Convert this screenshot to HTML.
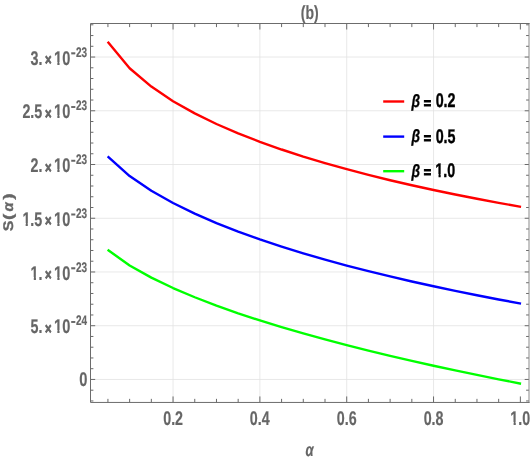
<!DOCTYPE html>
<html><head><meta charset="utf-8"><title>(b)</title><style>html,body{margin:0;padding:0;background:#fff;overflow:hidden}svg{display:block;will-change:transform}text{text-rendering:geometricPrecision;font-family:"Liberation Sans",sans-serif;font-weight:bold}</style></head><body>
<svg width="531" height="461" viewBox="0 0 531 461">
<rect width="531" height="461" fill="#fff"/>
<path d="M173.05 23.5V402.45M259.88 23.5V402.45M346.71 23.5V402.45M433.54 23.5V402.45M90.5 379.45H529.0M90.5 325.71H529.0M90.5 271.98H529.0M90.5 218.25H529.0M90.5 164.51H529.0M90.5 110.77H529.0M90.5 57.04H529.0" stroke="#e2e2e2" stroke-width="0.8" fill="none"/>
<polyline points="107.67,41.71 129.63,68.21 151.34,86.61 173.05,101.18 194.76,113.41 216.46,124.00 238.17,133.38 259.88,141.83 281.59,149.51 303.29,156.57 325.00,163.10 346.71,169.18 368.42,174.87 390.12,180.21 411.83,185.24 433.54,190.00 455.25,194.51 476.95,198.79 498.66,202.87 521.06,206.88" fill="none" stroke="#ff0000" stroke-width="2.4" stroke-linejoin="round" stroke-linecap="butt"/>
<polyline points="107.63,156.37 129.63,176.04 151.34,190.77 173.05,203.00 194.76,213.61 216.46,223.04 238.17,231.57 259.88,239.39 281.59,246.61 303.29,253.33 325.00,259.63 346.71,265.55 368.42,271.14 390.12,276.44 411.83,281.48 433.54,286.28 455.25,290.87 476.95,295.25 498.66,299.45 521.06,303.62" fill="none" stroke="#0000ff" stroke-width="2.4" stroke-linejoin="round" stroke-linecap="butt"/>
<polyline points="107.60,249.78 129.63,265.44 151.34,277.63 173.05,288.03 194.76,297.25 216.46,305.60 238.17,313.29 259.88,320.44 281.59,327.14 303.29,333.46 325.00,339.46 346.71,345.17 368.42,350.63 390.12,355.86 411.83,360.89 433.54,365.74 455.25,370.41 476.95,374.94 498.66,379.31 521.06,383.70" fill="none" stroke="#00ff00" stroke-width="2.4" stroke-linejoin="round" stroke-linecap="butt"/>
<path d="M107.93 402.45v-3.6M107.93 23.5v3.6M129.63 402.45v-3.6M129.63 23.5v3.6M151.34 402.45v-3.6M151.34 23.5v3.6M173.05 402.45v-6.0M173.05 23.5v6.0M194.76 402.45v-3.6M194.76 23.5v3.6M216.47 402.45v-3.6M216.47 23.5v3.6M238.17 402.45v-3.6M238.17 23.5v3.6M259.88 402.45v-6.0M259.88 23.5v6.0M281.59 402.45v-3.6M281.59 23.5v3.6M303.29 402.45v-3.6M303.29 23.5v3.6M325.00 402.45v-3.6M325.00 23.5v3.6M346.71 402.45v-6.0M346.71 23.5v6.0M368.42 402.45v-3.6M368.42 23.5v3.6M390.12 402.45v-3.6M390.12 23.5v3.6M411.83 402.45v-3.6M411.83 23.5v3.6M433.54 402.45v-6.0M433.54 23.5v6.0M455.25 402.45v-3.6M455.25 23.5v3.6M476.96 402.45v-3.6M476.96 23.5v3.6M498.66 402.45v-3.6M498.66 23.5v3.6M520.37 402.45v-6.0M520.37 23.5v6.0M90.5 400.94h2.9M529.0 400.94h-2.9M90.5 390.20h2.9M529.0 390.20h-2.9M90.5 379.45h4.7M529.0 379.45h-4.3M90.5 368.70h2.9M529.0 368.70h-2.9M90.5 357.96h2.9M529.0 357.96h-2.9M90.5 347.21h2.9M529.0 347.21h-2.9M90.5 336.46h2.9M529.0 336.46h-2.9M90.5 325.71h4.7M529.0 325.71h-4.3M90.5 314.97h2.9M529.0 314.97h-2.9M90.5 304.22h2.9M529.0 304.22h-2.9M90.5 293.47h2.9M529.0 293.47h-2.9M90.5 282.73h2.9M529.0 282.73h-2.9M90.5 271.98h4.7M529.0 271.98h-4.3M90.5 261.23h2.9M529.0 261.23h-2.9M90.5 250.49h2.9M529.0 250.49h-2.9M90.5 239.74h2.9M529.0 239.74h-2.9M90.5 228.99h2.9M529.0 228.99h-2.9M90.5 218.25h4.7M529.0 218.25h-4.3M90.5 207.50h2.9M529.0 207.50h-2.9M90.5 196.75h2.9M529.0 196.75h-2.9M90.5 186.00h2.9M529.0 186.00h-2.9M90.5 175.26h2.9M529.0 175.26h-2.9M90.5 164.51h4.7M529.0 164.51h-4.3M90.5 153.76h2.9M529.0 153.76h-2.9M90.5 143.02h2.9M529.0 143.02h-2.9M90.5 132.27h2.9M529.0 132.27h-2.9M90.5 121.52h2.9M529.0 121.52h-2.9M90.5 110.77h4.7M529.0 110.77h-4.3M90.5 100.03h2.9M529.0 100.03h-2.9M90.5 89.28h2.9M529.0 89.28h-2.9M90.5 78.53h2.9M529.0 78.53h-2.9M90.5 67.79h2.9M529.0 67.79h-2.9M90.5 57.04h4.7M529.0 57.04h-4.3M90.5 46.29h2.9M529.0 46.29h-2.9M90.5 35.55h2.9M529.0 35.55h-2.9M90.5 24.80h2.9M529.0 24.80h-2.9" stroke="#696969" stroke-width="1" fill="none"/>
<path d="M529.0 23.0V402.95" stroke="#8a8a8a" stroke-width="1" fill="none"/>
<path d="M529.5 23.5H90.5V402.45H529.5" stroke="#6c6c6c" stroke-width="1" fill="none"/>
<path d="M383.2 101.5H404.2" stroke="#ff0000" stroke-width="2.4"/>
<path d="M383.2 136.6H404.2" stroke="#0000ff" stroke-width="2.4"/>
<path d="M383.2 171.2H404.2" stroke="#00ff00" stroke-width="2.4"/>
<text transform="translate(163.21 424.55) scale(0.7222 1)" font-size="19.80" fill="#666" stroke="#666" stroke-width="0.18">0.2</text>
<text transform="translate(249.80 424.55) scale(0.7222 1)" font-size="19.80" fill="#666" stroke="#666" stroke-width="0.18">0.4</text>
<text transform="translate(336.85 424.55) scale(0.7222 1)" font-size="19.80" fill="#666" stroke="#666" stroke-width="0.18">0.6</text>
<text transform="translate(423.64 424.55) scale(0.7222 1)" font-size="19.80" fill="#666" stroke="#666" stroke-width="0.18">0.8</text>
<text transform="translate(510.37 424.55) scale(0.7222 1)" font-size="19.80" fill="#666" stroke="#666" stroke-width="0.18">1.0</text>
<text transform="translate(300.80 18.54) scale(0.7340 1)" font-size="19.10" fill="#666" stroke="#666" stroke-width="0.18">(b)</text>
<text transform="translate(305.44 455.71) scale(0.7238 1)" font-size="18.07" fill="#666" stroke="#666" stroke-width="0.18" font-style="italic">α</text>
<text transform="translate(30.56 64.59) scale(0.7222 1)" font-size="19.80" fill="#666" stroke="#666" stroke-width="0.18">3.</text>
<text transform="translate(45.03 65.23) scale(0.7102 1)" font-size="15.77" fill="#666" stroke="#666" stroke-width="0.9">×</text>
<text transform="translate(54.03 64.59) scale(0.7374 1)" font-size="19.80" fill="#666" stroke="#666" stroke-width="0.18">10</text>
<text transform="translate(70.82 57.00) scale(1.0459 1)" font-size="14.31" fill="#666" stroke="#666" stroke-width="0.18">-</text>
<text transform="translate(75.95 56.59) scale(0.7246 1)" font-size="13.80" fill="#666" stroke="#666" stroke-width="0.18">23</text>
<text transform="translate(22.42 118.32) scale(0.7222 1)" font-size="19.80" fill="#666" stroke="#666" stroke-width="0.18">2.5</text>
<text transform="translate(45.03 118.97) scale(0.7102 1)" font-size="15.77" fill="#666" stroke="#666" stroke-width="0.9">×</text>
<text transform="translate(54.03 118.32) scale(0.7374 1)" font-size="19.80" fill="#666" stroke="#666" stroke-width="0.18">10</text>
<text transform="translate(70.82 111.00) scale(0.9762 1)" font-size="15.33" fill="#666" stroke="#666" stroke-width="0.18">-</text>
<text transform="translate(75.95 110.32) scale(0.7246 1)" font-size="13.80" fill="#666" stroke="#666" stroke-width="0.18">23</text>
<text transform="translate(30.56 172.06) scale(0.7222 1)" font-size="19.80" fill="#666" stroke="#666" stroke-width="0.18">2.</text>
<text transform="translate(45.03 172.70) scale(0.7102 1)" font-size="15.77" fill="#666" stroke="#666" stroke-width="0.9">×</text>
<text transform="translate(54.03 172.06) scale(0.7374 1)" font-size="19.80" fill="#666" stroke="#666" stroke-width="0.18">10</text>
<text transform="translate(70.82 165.00) scale(0.9152 1)" font-size="16.35" fill="#666" stroke="#666" stroke-width="0.18">-</text>
<text transform="translate(75.95 164.06) scale(0.7246 1)" font-size="13.80" fill="#666" stroke="#666" stroke-width="0.18">23</text>
<text transform="translate(22.42 225.80) scale(0.7222 1)" font-size="19.80" fill="#666" stroke="#666" stroke-width="0.18">1.5</text>
<text transform="translate(45.03 226.44) scale(0.7102 1)" font-size="15.77" fill="#666" stroke="#666" stroke-width="0.9">×</text>
<text transform="translate(54.03 225.80) scale(0.7374 1)" font-size="19.80" fill="#666" stroke="#666" stroke-width="0.18">10</text>
<text transform="translate(70.82 218.00) scale(1.1071 1)" font-size="13.52" fill="#666" stroke="#666" stroke-width="0.18">-</text>
<text transform="translate(75.95 217.80) scale(0.7246 1)" font-size="13.80" fill="#666" stroke="#666" stroke-width="0.18">23</text>
<text transform="translate(30.56 279.53) scale(0.7222 1)" font-size="19.80" fill="#666" stroke="#666" stroke-width="0.18">1.</text>
<text transform="translate(45.03 280.17) scale(0.7102 1)" font-size="15.77" fill="#666" stroke="#666" stroke-width="0.9">×</text>
<text transform="translate(54.03 279.53) scale(0.7374 1)" font-size="19.80" fill="#666" stroke="#666" stroke-width="0.18">10</text>
<text transform="translate(70.82 272.00) scale(1.0293 1)" font-size="14.54" fill="#666" stroke="#666" stroke-width="0.18">-</text>
<text transform="translate(75.95 271.53) scale(0.7246 1)" font-size="13.80" fill="#666" stroke="#666" stroke-width="0.18">23</text>
<text transform="translate(30.56 333.26) scale(0.7222 1)" font-size="19.80" fill="#666" stroke="#666" stroke-width="0.18">5.</text>
<text transform="translate(45.03 333.91) scale(0.7102 1)" font-size="15.77" fill="#666" stroke="#666" stroke-width="0.9">×</text>
<text transform="translate(54.03 333.26) scale(0.7374 1)" font-size="19.80" fill="#666" stroke="#666" stroke-width="0.18">10</text>
<text transform="translate(70.82 326.00) scale(0.9617 1)" font-size="15.56" fill="#666" stroke="#666" stroke-width="0.18">-</text>
<text transform="translate(75.95 325.26) scale(0.7246 1)" font-size="13.80" fill="#666" stroke="#666" stroke-width="0.18">24</text>
<text transform="translate(79.13 386.35) scale(0.7424 1)" font-size="19.80" fill="#666" stroke="#666" stroke-width="0.18">0</text>
<text transform="translate(13.06 231.26) rotate(-90) scale(1.1459 1)" font-size="13.98" fill="#666" stroke="#666" stroke-width="0.3">S</text>
<text transform="translate(12.83 220.05) rotate(-90) scale(1.3826 1)" font-size="13.84" fill="#666" stroke="#666" stroke-width="0.3">(</text>
<text transform="translate(13.05 211.51) rotate(-90) scale(1.0287 1)" font-size="14.42" fill="#666" stroke="#666" stroke-width="0.3" font-style="italic">α</text>
<text transform="translate(12.83 199.72) rotate(-90) scale(1.3826 1)" font-size="13.84" fill="#666" stroke="#666" stroke-width="0.3">)</text>
<text transform="translate(411.60 106.90) scale(0.7747 1)" font-size="17.81" fill="#000" stroke="#000" stroke-width="0.35" font-style="italic">β</text>
<text transform="translate(423.68 107.67) scale(0.8633 1)" font-size="14.55" fill="#000" stroke="#000" stroke-width="0.9">=</text>
<text transform="translate(435.63 107.40) scale(0.7222 1)" font-size="19.80" fill="#000" stroke="#000" stroke-width="0.4">0.2</text>
<text transform="translate(411.60 142.00) scale(0.7747 1)" font-size="17.81" fill="#000" stroke="#000" stroke-width="0.35" font-style="italic">β</text>
<text transform="translate(423.68 142.77) scale(0.8633 1)" font-size="14.55" fill="#000" stroke="#000" stroke-width="0.9">=</text>
<text transform="translate(435.63 142.50) scale(0.7222 1)" font-size="19.80" fill="#000" stroke="#000" stroke-width="0.4">0.5</text>
<text transform="translate(411.60 176.60) scale(0.7747 1)" font-size="17.81" fill="#000" stroke="#000" stroke-width="0.35" font-style="italic">β</text>
<text transform="translate(423.68 177.37) scale(0.8633 1)" font-size="14.55" fill="#000" stroke="#000" stroke-width="0.9">=</text>
<text transform="translate(435.30 177.10) scale(0.7222 1)" font-size="19.80" fill="#000" stroke="#000" stroke-width="0.4">1.0</text>
<path d="M511 422H513.61V426H511ZM515.77 422H519V426H515.77ZM54 62H57.34V66H54ZM59.54 62H62V66H59.54ZM54 115H57.34V119H54ZM59.54 115H62V119H59.54ZM54 169H57.34V173H54ZM59.54 169H62V173H59.54ZM23 223H25.66V227H23ZM27.82 223H31V227H27.82ZM54 223H57.34V227H54ZM59.54 223H62V227H59.54ZM31 277H33.80V281H31ZM35.96 277H39V281H35.96ZM54 277H57.34V281H54ZM59.54 277H62V281H59.54ZM54 330H57.34V334H54ZM59.54 330H62V334H59.54ZM436 174H438.54V178H436ZM440.70 174H444V178H440.70Z" fill="#fff"/>
</svg>
</body></html>
